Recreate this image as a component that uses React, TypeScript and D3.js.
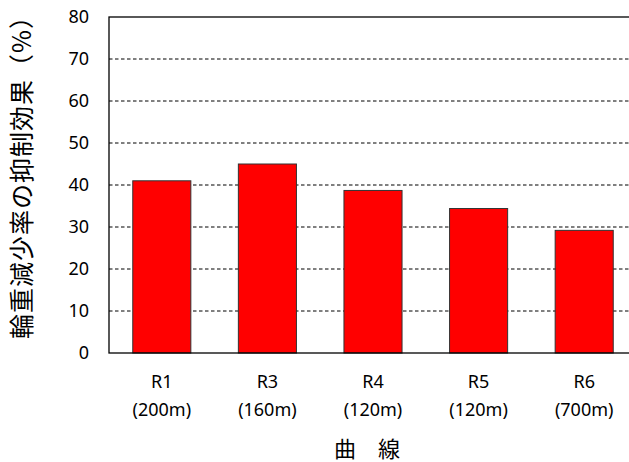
import { axisLeft, scaleBand, scaleLinear, select } from "d3";
import { useEffect, useRef } from "react";

const curves = ["R1", "R3", "R4", "R5", "R6"];
const radii = ["(200m)", "(160m)", "(120m)", "(120m)", "(700m)"];
const effect = [41, 45, 38.7, 34.4, 29.2];
const yTicks = [0, 10, 20, 30, 40, 50, 60, 70, 80];

const W = 629;
const H = 462;
const margin = { left: 109, top: 17, right: -8, bottom: 109 };

function App() {
  const svgRef = useRef<SVGSVGElement>(null);

  useEffect(() => {
    const svg = select(svgRef.current);
    svg.selectAll("*").remove();

    const x = scaleBand()
      .domain(curves)
      .range([margin.left, W - margin.right])
      .paddingInner(0.45)
      .paddingOuter(0.225);

    const y = scaleLinear()
      .domain([0, 80])
      .range([H - margin.bottom, margin.top]);

    // dashed gridlines
    svg
      .append("g")
      .selectAll("line")
      .data(yTicks.filter((t) => t > 0 && t < 80))
      .join("line")
      .attr("x1", margin.left)
      .attr("x2", W - margin.right)
      .attr("y1", (d) => y(d))
      .attr("y2", (d) => y(d))
      .attr("stroke", "#000")
      .attr("stroke-width", 1)
      .attr("stroke-dasharray", "3.5,2.5");

    // bars
    svg
      .append("g")
      .selectAll("rect")
      .data(effect)
      .join("rect")
      .attr("x", (_, i) => x(curves[i])!)
      .attr("y", (d) => y(d))
      .attr("width", x.bandwidth())
      .attr("height", (d) => y(0) - y(d))
      .attr("fill", "#ff0000")
      .attr("stroke", "#333")
      .attr("stroke-width", 1);

    // plot frame
    svg
      .append("rect")
      .attr("x", margin.left)
      .attr("y", margin.top)
      .attr("width", W - margin.right - margin.left)
      .attr("height", y(0) - margin.top)
      .attr("fill", "none")
      .attr("stroke", "#000")
      .attr("stroke-width", 1.3);

    // y axis labels
    const yAxis: any = axisLeft(y).tickValues(yTicks).tickSize(0).tickPadding(20);
    const gy = svg
      .append("g")
      .attr("transform", `translate(${margin.left},0)`)
      .call(yAxis);
    gy.select(".domain").remove();
    gy.selectAll("text")
      .attr("font-family", "'Noto Sans', sans-serif")
      .attr("font-size", 18)
      .attr("fill", "#000");

    // category labels
    const gx = svg.append("g");
    curves.forEach((c, i) => {
      const cx = x(c)! + x.bandwidth() / 2;
      gx.append("text")
        .attr("x", cx)
        .attr("y", 388)
        .attr("text-anchor", "middle")
        .attr("font-family", "'Noto Sans', sans-serif")
        .attr("font-size", 18)
        .text(c);
      gx.append("text")
        .attr("x", cx)
        .attr("y", 416)
        .attr("text-anchor", "middle")
        .attr("font-family", "'Noto Sans', sans-serif")
        .attr("font-size", 18)
        .text(radii[i]);
    });

    // axis titles
    svg
      .append("text")
      .attr("x", 367)
      .attr("y", 457)
      .attr("text-anchor", "middle")
      .attr("font-family", "'Noto Sans CJK JP', sans-serif")
      .attr("font-size", 22)
      .text("曲　線");

    svg
      .append("text")
      .attr("transform", "translate(31,171) rotate(-90)")
      .attr("text-anchor", "middle")
      .attr("font-family", "'Noto Sans CJK JP', sans-serif")
      .attr("font-size", 25)
      .attr("letter-spacing", 1)
      .text("輪重減少率の抑制効果（%）");
  }, []);

  return (
    <div style={{ position: "absolute", left: 0, top: 0, background: "#fff" }}>
      <svg ref={svgRef} width={W} height={H} style={{ display: "block" }} />
    </div>
  );
}

export default App;
